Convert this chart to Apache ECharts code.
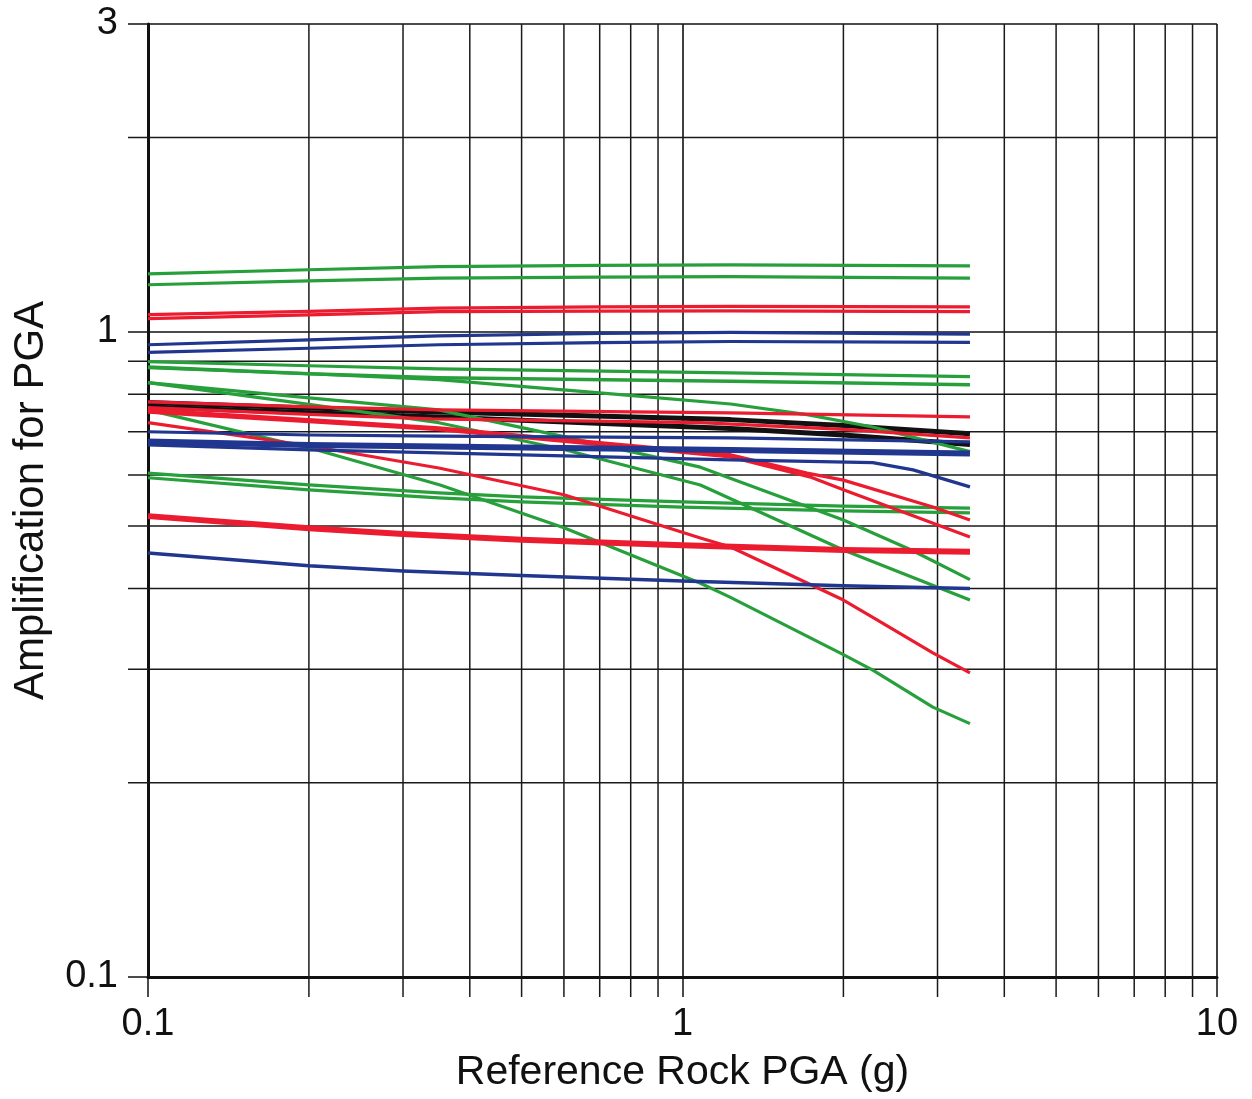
<!DOCTYPE html>
<html><head><meta charset="utf-8">
<script src="https://cdn.jsdelivr.net/npm/echarts@6/dist/echarts.min.js"></script>
<style>html,body{margin:0;padding:0;background:#fff}#c{width:1252px;height:1099px}</style>
</head><body><div id="c"></div>
<script>
// axis ranges / grid values
const xRange = [0.1, 10];
const yRange = [0.1, 3];
const xMinorGrid = [0.2,0.3,0.4,0.5,0.6,0.7,0.8,0.9,2,3,4,5,6,7,8,9];
const yMinorGrid = [0.2,0.3,0.4,0.5,0.6,0.7,0.8,0.9,2];

// curves: [reference rock PGA (g), amplification]
const greenA = [[0.1,1.230],[0.2,1.248],[0.35,1.262],[0.7,1.268],[1.23,1.270],[3.45,1.265]];
const greenB = [[0.1,1.183],[0.2,1.199],[0.35,1.211],[0.7,1.216],[1.23,1.218],[3.45,1.211]];
const redC1  = [[0.1,1.063],[0.2,1.076],[0.35,1.088],[0.7,1.093],[1.23,1.095],[3.45,1.093]];
const redC2  = [[0.1,1.048],[0.2,1.062],[0.35,1.075],[0.7,1.077],[1.23,1.078],[3.45,1.075]];
const blueD  = [[0.1,0.955],[0.2,0.972],[0.35,0.986],[0.7,0.994],[1.23,0.998],[3.45,0.992]];
const blueE  = [[0.1,0.929],[0.2,0.943],[0.35,0.955],[0.7,0.962],[1.23,0.966],[3.45,0.963]];
const greenF = [[0.1,0.899],[0.2,0.886],[0.35,0.876],[1.23,0.864],[3.45,0.852]];
const greenG = [[0.1,0.882],[0.2,0.861],[0.35,0.849],[1.23,0.838],[3.45,0.828]];
const greenI = [[0.1,0.880],[0.2,0.861],[0.35,0.843],[0.7,0.804],[1.23,0.773],[1.71,0.744],[2.27,0.712],[3.45,0.652]];
const greenH1 = [[0.1,0.834],[0.2,0.790],[0.35,0.757],[0.6,0.688],[1.08,0.617],[2.0,0.511],[2.68,0.459],[3.45,0.413]];
const greenH2 = [[0.1,0.834],[0.2,0.772],[0.35,0.723],[0.6,0.657],[1.08,0.579],[2.0,0.459],[3.45,0.384]];
const greenJ = [[0.1,0.757],[0.207,0.656],[0.352,0.579],[0.6,0.497],[1.078,0.408],[1.227,0.388],[2.0,0.316],[2.27,0.299],[2.94,0.262],[3.45,0.247]];
const greenK1 = [[0.1,0.604],[0.2,0.579],[0.35,0.563],[0.5,0.555],[1.0,0.545],[2.0,0.537],[3.45,0.533]];
const greenK2 = [[0.1,0.594],[0.2,0.569],[0.35,0.553],[0.5,0.545],[1.0,0.535],[2.0,0.528],[3.45,0.524]];
const redR1 = [[0.1,0.779],[0.2,0.765],[0.35,0.757],[1.23,0.749],[3.45,0.738]];
const redN  = [[0.1,0.763],[0.2,0.745],[0.34,0.733],[1.08,0.723],[2.0,0.706],[3.45,0.685]];
const redL1 = [[0.1,0.757],[0.2,0.731],[0.35,0.710],[1.23,0.645],[1.71,0.604],[2.0,0.589],[2.94,0.535],[3.45,0.511]];
const redL2 = [[0.1,0.751],[0.2,0.726],[0.35,0.705],[1.23,0.640],[1.73,0.596],[2.0,0.569],[3.45,0.481]];
const redM  = [[0.1,0.723],[0.2,0.666],[0.35,0.615],[0.6,0.559],[1.08,0.479],[1.23,0.464],[2.0,0.384],[2.27,0.361],[2.94,0.318],[3.45,0.296]];
const redO  = [[0.1,0.518],[0.2,0.496],[0.3,0.486],[0.5,0.476],[1.0,0.467],[2.0,0.459],[3.45,0.456]];
const blueQ1 = [[0.1,0.700],[0.2,0.692],[0.35,0.689],[1.23,0.685],[3.45,0.675]];
const blueQ2 = [[0.1,0.676],[0.2,0.668],[0.35,0.664],[1.23,0.656],[3.45,0.648]];
const blueQ3 = [[0.1,0.668],[0.2,0.656],[0.35,0.649],[1.23,0.633],[2.27,0.627],[2.7,0.611],[3.45,0.575]];
const blueP  = [[0.1,0.454],[0.2,0.434],[0.3,0.426],[0.5,0.419],[1.0,0.411],[2.0,0.404],[3.45,0.400]];
const black1 = [[0.1,0.777],[0.2,0.762],[0.35,0.751],[1.23,0.731],[2.0,0.716],[3.45,0.695]];
const black2 = [[0.1,0.765],[0.2,0.749],[0.35,0.738],[1.23,0.708],[2.0,0.692],[3.45,0.669]];

const GREEN = '#27a03c', RED = '#ec1c30', BLUE = '#20368f', BLACK = '#111111';
const curves = [
  [black1, BLACK, 5], [black2, BLACK, 5],
  [greenA, GREEN, 3.2], [greenB, GREEN, 3.2], [redC1, RED, 3.2], [redC2, RED, 3.2],
  [blueD, BLUE, 3.2], [blueE, BLUE, 3.2], [greenF, GREEN, 3.2], [greenG, GREEN, 3.5],
  [greenI, GREEN, 3.2], [greenH1, GREEN, 3.2], [greenH2, GREEN, 3.2], [greenJ, GREEN, 3.2],
  [greenK1, GREEN, 3.2], [greenK2, GREEN, 3.2], [redR1, RED, 3.2], [redN, RED, 3.2],
  [redL1, RED, 3.2], [redL2, RED, 3.2], [redM, RED, 3.2], [redO, RED, 6],
  [blueQ1, BLUE, 3.2], [blueQ2, BLUE, 6], [blueQ3, BLUE, 3.2], [blueP, BLUE, 3.5]
];

const FONT = 'Liberation Sans, Arial, Helvetica, sans-serif';
const chart = echarts.init(document.getElementById('c'), null, {renderer: 'canvas'});

const series = curves.map(([d, c, w]) => ({
  type: 'line', data: d, showSymbol: false, symbol: 'none', smooth: false,
  lineStyle: {color: c, width: w, join: 'round', cap: 'butt'}, z: 3, silent: true
}));

series.unshift({
  type: 'custom', coordinateSystem: 'cartesian2d', silent: true, z: 1,
  data: xMinorGrid.map(v => [v, yRange[0]]),
  renderItem: (p, api) => {
    const x = api.value(0);
    const b = api.coord([x, yRange[0]]), t = api.coord([x, yRange[1]]);
    return {type: 'line', shape: {x1: b[0], y1: b[1] + 20, x2: t[0], y2: t[1]}, style: {stroke: '#1a1a1a', lineWidth: 1.5}};
  }
}, {
  type: 'custom', coordinateSystem: 'cartesian2d', silent: true, z: 1,
  data: yMinorGrid.map(v => [xRange[0], v]),
  renderItem: (p, api) => {
    const y = api.value(1);
    const l = api.coord([xRange[0], y]), r = api.coord([xRange[1], y]);
    return {type: 'line', shape: {x1: l[0] - 20, y1: l[1], x2: r[0], y2: r[1]}, style: {stroke: '#1a1a1a', lineWidth: 1.5}};
  }
});

const fmt = v => String(Math.round(v * 1000) / 1000);

chart.setOption({
  animation: false,
  backgroundColor: '#fff',
  grid: {left: 148, top: 24, right: 35, bottom: 122, containLabel: false, outerBoundsMode: 'none'},
  xAxis: {
    type: 'log', logBase: 10, min: xRange[0], max: xRange[1],
    name: 'Reference Rock PGA (g)', nameLocation: 'middle', nameGap: 75,
    nameTextStyle: {fontSize: 41, color: '#111', fontFamily: FONT},
    axisLine: {show: true, lineStyle: {color: '#111', width: 3}},
    axisTick: {show: true, length: 20, lineStyle: {color: '#111', width: 1.5}},
    axisLabel: {fontSize: 38, color: '#111', fontFamily: FONT, margin: 29, formatter: fmt, showMinLabel: true, showMaxLabel: true},
    splitLine: {show: true, lineStyle: {color: '#111', width: 1.6}},
    minorTick: {show: false}, minorSplitLine: {show: false}
  },
  yAxis: {
    type: 'log', logBase: 10, min: yRange[0], max: yRange[1],
    name: 'Amplification for PGA', nameLocation: 'middle', nameGap: 96,
    nameTextStyle: {fontSize: 42, color: '#111', fontFamily: FONT},
    axisLine: {show: true, lineStyle: {color: '#111', width: 3}},
    axisTick: {show: true, length: 20, lineStyle: {color: '#111', width: 1.5}},
    axisLabel: {fontSize: 38, color: '#111', fontFamily: FONT, margin: 30, formatter: fmt, showMinLabel: true, showMaxLabel: true},
    splitLine: {show: true, lineStyle: {color: '#111', width: 1.6}},
    minorTick: {show: false}, minorSplitLine: {show: false}
  },
  series: series
});
</script>
</body></html>
